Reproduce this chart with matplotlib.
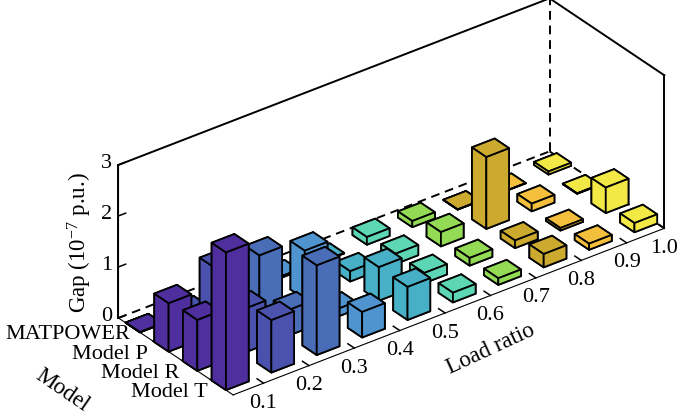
import matplotlib
matplotlib.use("Agg")
import matplotlib.pyplot as plt
from mpl_toolkits.mplot3d import proj3d

plt.rcParams['font.family'] = ['Liberation Serif', 'DejaVu Serif']
plt.rcParams['mathtext.fontset'] = 'custom'
plt.rcParams['mathtext.rm'] = 'Liberation Serif'
plt.rcParams['mathtext.it'] = 'Liberation Serif'

# values, unit 1e-7 p.u.
load_labels = ['0.1', '0.2', '0.3', '0.4', '0.5', '0.6', '0.7', '0.8', '0.9', '1.0']
model_labels = ['MATPOWER', 'Model P', 'Model R', 'Model T']
matpower = [0.005, 0.01, 0.05, 0.03, 0.01, 0.15, 0.12, 0.005, 0.005, 0.06]
model_p = [0.95, 1.31, 1.20, 0.95, 0.20, 0.20, 0.28, 1.41, 0.15, 0.01]
model_r = [1.00, 0.86, 0.50, 0.15, 0.66, 0.20, 0.15, 0.15, 0.05, 0.50]
model_t = [2.70, 1.03, 1.76, 0.50, 0.65, 0.19, 0.13, 0.26, 0.12, 0.18]
gaps = [matpower, model_p, model_r, model_t]

colors = ['#4f2f9e', '#4a52ae', '#4a6db8', '#4f94cf', '#47afc6',
          '#5dd6b6', '#93da55', '#ccaa30', '#f3bf3d', '#f2e846']

# tick marks sit off the bar centres in the original
x_tick_pos = [1.42, 2.42, 3.42, 4.42, 5.42, 6.42, 7.42, 8.42, 9.42, 10.25]
y_tick_pos = [0.9, 1.7, 2.7, 3.7]
z_ticks = [0, 1, 2, 3]

# pixel offsets of the model names from their ticks
model_dx = [0, -4.5, -2, -2]
model_dy = [-9, -13, -13.5, -12.5]

bar_w = 0.5
xlo, xhi = 0.75, 10.25
yback, yfront = 0.5, 4.5
ztop = 3
font_size = 16
edge_lw = 1.4
dashes = (0, (4.5, 3))

fig = plt.figure(figsize=(6.85, 4.2), dpi=100)
ax = fig.add_axes([92 / 685, -76 / 420, 583 / 685, 583 / 420], projection='3d',
                  proj_type='ortho', computed_zorder=False)
ax.patch.set_alpha(0)
ax.set_box_aspect((542, 190, 178))
ax.view_init(elev=30.6, azim=-127.2)
ax.set_xlim(xlo, xhi, view_margin=0)
ax.set_ylim(yfront, yback, view_margin=0)
ax.set_zlim(0, ztop, view_margin=0)

ax.grid(False)
for a in (ax.xaxis, ax.yaxis, ax.zaxis):
    a.set_pane_color((1, 1, 1, 0))
    a.pane.set_edgecolor((1, 1, 1, 0))
    a._axinfo['axisline']['color'] = 'black'
    a._axinfo['axisline']['linewidth'] = edge_lw
    a._axinfo['tick']['outward_factor'] = 0.0
    a._axinfo['tick']['linewidth'] = {True: 1.1, False: 0.5}

# negative so the ticks point into the box
ax.xaxis._axinfo['tick']['inward_factor'] = -0.7
ax.yaxis._axinfo['tick']['inward_factor'] = -0.21
ax.zaxis._axinfo['tick']['inward_factor'] = -0.21

ax.set_xticks(x_tick_pos)
ax.set_yticks(y_tick_pos)
ax.set_zticks(z_ticks)
ax.set_xticklabels([])
ax.set_yticklabels([])
ax.set_zticklabels([])

# box outline
ax.plot([xlo, xlo], [yback, yback], [0, ztop], color='black', lw=edge_lw, zorder=1)
ax.plot([xlo, xhi], [yback, yback], [ztop, ztop], color='black', lw=edge_lw, zorder=1)
ax.plot([xhi, xhi], [yback, yfront], [ztop, ztop], color='black', lw=edge_lw, zorder=1)
ax.plot([xhi, xhi], [yfront, yfront], [0, ztop], color='black', lw=edge_lw, zorder=1)
ax.plot([xlo, xhi], [yback, yback], [0, 0], color='black', lw=edge_lw, ls=dashes, zorder=1)
ax.plot([xhi, xhi], [yback, yfront], [0, 0], color='black', lw=edge_lw, ls=dashes, zorder=1)
ax.plot([xhi, xhi], [yback, yback], [0, ztop], color='black', lw=edge_lw, ls=dashes, zorder=1)

# back rows and far columns first
z = 2
for i in range(len(load_labels) - 1, -1, -1):
    for j in range(len(model_labels)):
        ax.bar3d(i + 1 - bar_w / 2, j + 1 - bar_w / 2, 0, bar_w, bar_w, gaps[j][i],
                 color=colors[i], edgecolor='black', linewidth=1.3, shade=False, zorder=z)
        z += 1


# tick labels hang at a fixed pixel offset from their tick
def tick_label(x, y, zv, text, dx, dy, ha='center'):
    px, py, _ = proj3d.proj_transform(x, y, zv, ax.get_proj())
    ax.annotate(text, xy=(px, py), xytext=(dx, dy), textcoords='offset pixels',
                fontsize=font_size, ha=ha, va='center', annotation_clip=False, zorder=100)


ax.apply_aspect()
for pos, lab in zip(x_tick_pos, load_labels):
    tick_label(pos, yfront, 0, lab, 0, -20)
for pos, lab, dx, dy in zip(y_tick_pos, model_labels, model_dx, model_dy):
    tick_label(xlo, pos, 0, lab, dx, dy, ha='right')
for pos in z_ticks:
    tick_label(xlo, yback, pos, str(pos), -12, 1)

fig.text(80 / 685, 1 - 243 / 420, 'Gap (10$^{-7}$ p.u.)', fontsize=16.5, rotation=90,
         ha='center', va='center')
fig.text(491 / 685, 1 - 349 / 420, 'Load ratio', fontsize=16.5, rotation=24.8,
         ha='center', va='center', rotation_mode='anchor')
fig.text(62 / 685, 1 - 390 / 420, 'Model', fontsize=16.5, rotation=-34.5,
         ha='center', va='center', rotation_mode='anchor')

fig.savefig('out.png', dpi=100)
